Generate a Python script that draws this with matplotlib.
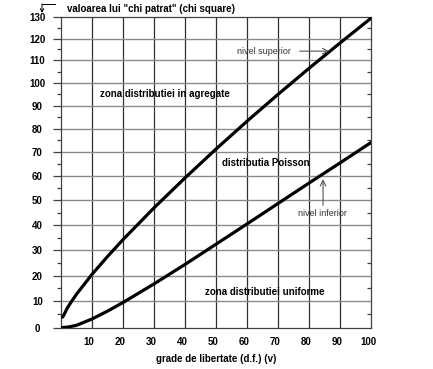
import matplotlib
matplotlib.use('Agg')
import matplotlib.pyplot as plt
from matplotlib import ticker
import numpy as np

# degrees of freedom and chi-square limits
df = [0.5, 1, 2, 3, 5, 10, 15, 20, 30, 40, 50, 60, 70, 80, 90, 100]
upper = [4.0, 5.0, 7.4, 9.3, 12.8, 20.5, 27.5, 34.2, 47.0, 59.3, 71.4, 83.3, 95.0, 106.6, 118.1, 129.6]
df_low = [0, 1, 2, 3, 5, 10, 15, 20, 30, 40, 50, 60, 70, 80, 90, 100]
lower = [0.0, 0.1, 0.2, 0.4, 0.9, 3.3, 6.3, 9.6, 16.8, 24.4, 32.4, 40.5, 48.8, 57.2, 65.6, 74.2]

xticks = [10, 20, 30, 40, 50, 60, 70, 80, 90, 100]
yticks = list(range(0, 131, 10))

plt.rcParams['font.family'] = ['Liberation Sans', 'DejaVu Sans']

# the original's vertical scale is slightly compressed towards the top
K = -7.4e-4


def fwd(v):
    v = np.asarray(v, dtype=float)
    return v + K * v * v


def inv(y):
    y = np.asarray(y, dtype=float)
    return (-1 + np.sqrt(np.clip(1 + 4 * K * y, 0, None))) / (2 * K)


fig = plt.figure(figsize=(4.33, 3.69), dpi=100)
ax = fig.add_axes([0.1409, 0.112, 0.717, 0.842])
ax.set_yscale('function', functions=(fwd, inv))
ax.set_xlim(0, 100)
ax.set_ylim(0, 130)

# grid
for v in range(10, 100, 10):
    ax.axvline(v, color='#303030', lw=0.9, zorder=1)
for v in range(10, 130, 10):
    ax.axhline(v, color='#8a8a8a', lw=1.0, zorder=1)

ax.plot(df, upper, color='black', lw=2.3, zorder=3, solid_capstyle='round')
ax.plot(df_low, lower, color='black', lw=2.3, zorder=3, solid_capstyle='round')

for s in ax.spines.values():
    s.set_color('#404040')
    s.set_linewidth(0.9)

ax.set_xticks(xticks)
ax.xaxis.set_major_formatter(ticker.FixedFormatter([str(t) for t in xticks]))
ax.tick_params(axis='x', length=0, pad=6.5, labelsize=7)
offset = matplotlib.transforms.ScaledTranslation(-3/100, 0, fig.dpi_scale_trans)
for lab in ax.get_xticklabels():
    lab.set_fontweight('bold')
    lab.set_transform(lab.get_transform() + offset)

ax.set_yticks(yticks)
ax.set_yticklabels([str(t) for t in yticks], fontsize=7, fontweight='bold', ha='center')
ax.yaxis.set_minor_locator(ticker.FixedLocator(list(range(5, 130, 10))))
ax.yaxis.set_minor_formatter(ticker.NullFormatter())
ax.tick_params(axis='y', which='major', length=6, width=0.9, color='#404040', pad=11)
ax.tick_params(axis='y', which='minor', length=3, width=0.9, color='#404040', direction='out')

# inward minor ticks on the right edge
ax2 = ax.twinx()
ax2.set_yscale('function', functions=(fwd, inv))
ax2.set_ylim(0, 130)
ax2.yaxis.set_major_locator(ticker.NullLocator())
ax2.yaxis.set_minor_locator(ticker.FixedLocator(list(range(5, 130, 10))))
ax2.yaxis.set_minor_formatter(ticker.NullFormatter())
ax2.tick_params(axis='y', which='minor', length=3, width=0.9, color='#404040', direction='in')
for s in ax2.spines.values():
    s.set_visible(False)

ax.set_xlabel('grade de libertate (d.f.) (v)', fontsize=7, fontweight='bold', labelpad=5)

# texts
ax.text(0.019, 1.008, 'valoarea lui "chi patrat" (chi square)', transform=ax.transAxes,
        fontsize=7, fontweight='bold', ha='left', va='bottom')
ax.text(0.126, 0.752, 'zona distributiei in agregate', transform=ax.transAxes,
        fontsize=7, fontweight='bold', va='center')
ax.text(0.519, 0.530, 'distributia Poisson', transform=ax.transAxes,
        fontsize=7, fontweight='bold', va='center')
ax.text(0.464, 0.115, 'zona distributiei uniforme', transform=ax.transAxes,
        fontsize=7, fontweight='bold', va='center')
ax.text(0.567, 0.890, 'nivel superior', transform=ax.transAxes,
        fontsize=6.5, color='#333333', va='center')
ax.text(0.763, 0.369, 'nivel inferior', transform=ax.transAxes,
        fontsize=6.5, color='#333333', va='center')
ax.annotate('', xy=(0.873, 0.890), xytext=(0.760, 0.890), xycoords='axes fraction',
            arrowprops=dict(arrowstyle='->', color='#555555', lw=0.8))
ax.annotate('', xy=(0.844, 0.487), xytext=(0.844, 0.385), xycoords='axes fraction',
            arrowprops=dict(arrowstyle='->', color='#555555', lw=0.8))

# little bent arrow at top left corner of the chart
fig.lines.append(matplotlib.lines.Line2D([42/433, 55/433], [1-4/369, 1-4/369],
                                          transform=fig.transFigure, color='black', lw=0.7))
ax.annotate('', xy=(42, 369-13), xytext=(42, 369-4), xycoords='figure pixels',
            arrowprops=dict(arrowstyle='->', color='black', lw=0.7, shrinkA=0, shrinkB=0,
                            mutation_scale=6))

fig.savefig('out.png', dpi=100)
